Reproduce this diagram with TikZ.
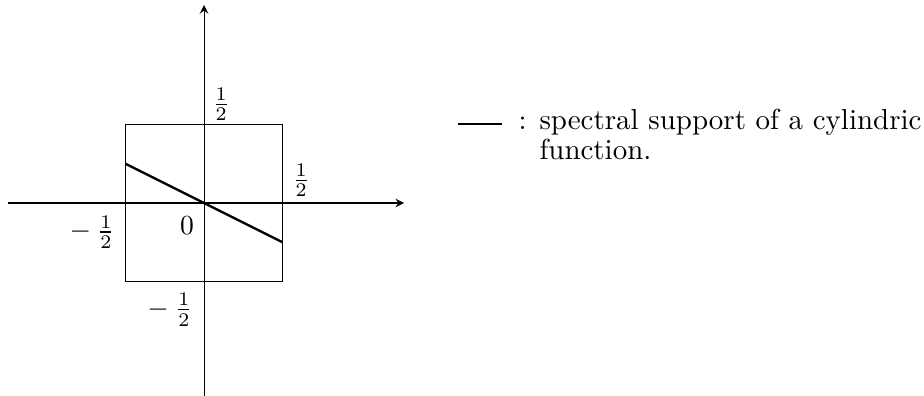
\documentclass[tikz,border=0pt]{standalone}
\usepackage{amsmath,amssymb}
\usetikzlibrary{arrows,positioning,calc}

\begin{document}
\begin{tikzpicture}[x=2cm, y=2cm, >=stealth,
    axis/.style={->, line width=0.4pt},
    support/.style={line width=0.85pt},
    lbl/.style={inner sep=0pt}]
    \useasboundingbox (-1.30,-1.229) rectangle (4.586,1.293);
    % axes
    \coordinate (xl) at (-1.248,0);
    \coordinate (xr) at (1.274,0);
    \coordinate (yb) at (0,-1.229);
    \coordinate (yt) at (0,1.261);
    \draw[axis] (xl) -- (xr);
    \draw[axis] (yb) -- (yt);
    % square
    \draw[line width=0.4pt] (-0.5,-0.5) rectangle (0.5,0.5);
    % spectral support
    \coordinate (sa) at (-0.5,0.25);
    \coordinate (sb) at (0.5,-0.25);
    \draw[support] (sa) -- (sb);
    % labels
    \node[lbl] (zero) at (-0.108,-0.146) {$0$};
    \node[lbl] (ytop) at (0.108,0.63) {$\frac{1}{2}$};
    \node[lbl] (xright) at (0.618,0.146) {$\frac{1}{2}$};
    \node[lbl] (xleft) at (-0.713,-0.185) {$-\:\frac{1}{2}$};
    \node[lbl] (ybot) at (-0.217,-0.68) {$-\:\frac{1}{2}$};
    % legend
    \coordinate (la) at (1.618,0.503);
    \coordinate (lb) at (1.898,0.503);
    \draw[support] (la) -- (lb);
    \node[lbl, anchor=base west, scale=1.05] (legend) at (2.0,0.465)
        {\def\arraystretch{0.86}\begin{tabular}[t]{@{}l@{ }l@{}}
        : & spectral support of a cylindric\\
          & function.
        \end{tabular}};
\end{tikzpicture}
\end{document}
